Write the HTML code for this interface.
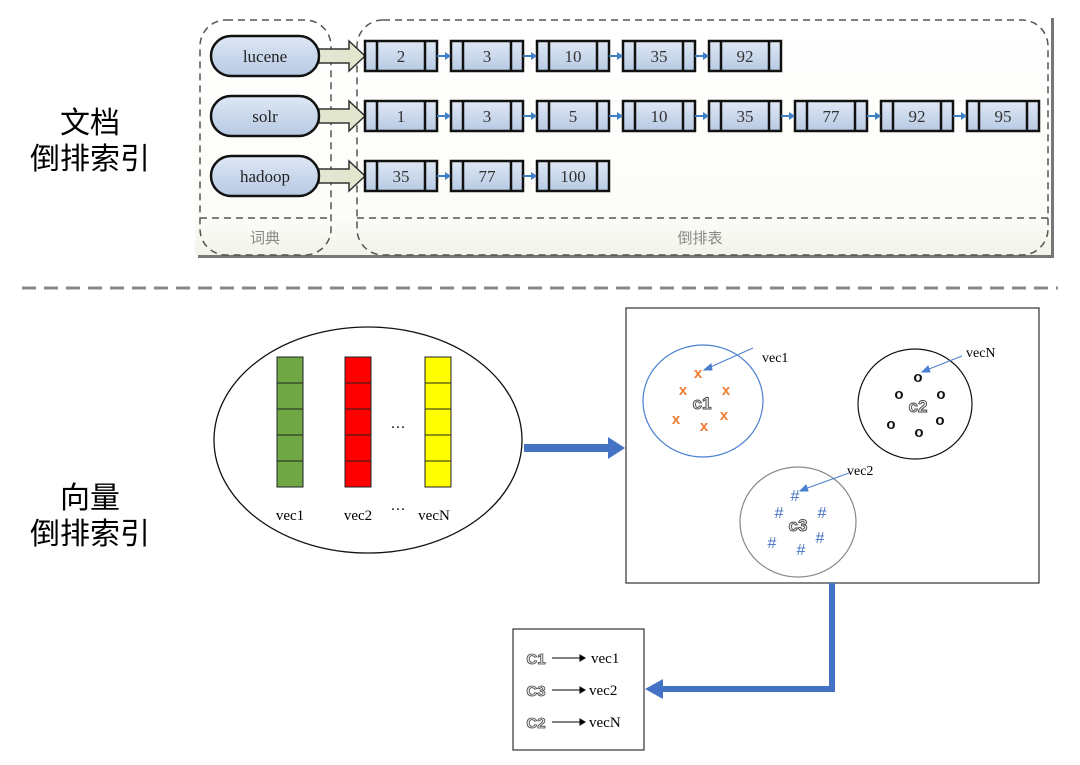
<!DOCTYPE html>
<html><head><meta charset="utf-8"><style>
html,body{margin:0;padding:0;background:#fff;}
svg{display:block;}
text{font-family:"Liberation Serif","Noto Serif CJK SC",serif;}
.cjk{font-family:"Liberation Sans","Noto Sans CJK SC",sans-serif;}
.sans text, text.sans{font-family:"Liberation Sans",sans-serif;}
</style></head><body>
<svg width="1080" height="765" viewBox="0 0 1080 765" xmlns="http://www.w3.org/2000/svg">
<defs>
<linearGradient id="pg" x1="0" y1="0" x2="0" y2="1"><stop offset="0" stop-color="#fff"/><stop offset="0.85" stop-color="#fcfcf8"/><stop offset="1" stop-color="#f3f3ea"/></linearGradient>
<linearGradient id="bg" x1="0" y1="0" x2="0" y2="1"><stop offset="0" stop-color="#dfe8f5"/><stop offset="1" stop-color="#b7c9e3"/></linearGradient>
<g id="box">
<rect x="0" y="0" width="72" height="30" fill="url(#bg)" stroke="#111" stroke-width="2.5"/>
<line x1="12" y1="0" x2="12" y2="30" stroke="#111" stroke-width="2.5"/>
<line x1="60" y1="0" x2="60" y2="30" stroke="#111" stroke-width="2.5"/>
</g>
<g id="lk"><line x1="0" y1="0" x2="9" y2="0" stroke="#3f7fc6" stroke-width="2"/><polygon points="8,-4 14,0 8,4" fill="#3f7fc6"/></g>
<g id="pill"><rect x="-54" y="-20" width="108" height="40" rx="20" fill="url(#bg)" stroke="#111" stroke-width="2.5"/></g>
<g id="arr"><polygon points="0,-7 30,-7 30,-15 46,0 30,15 30,7 0,7" fill="#e3e6cf" stroke="#333" stroke-width="1.5"/></g>
</defs>
<rect x="198" y="18" width="856" height="240" fill="#777"/>
<rect x="195" y="15" width="856" height="240" fill="url(#pg)"/>
<rect x="200" y="20" width="131" height="235" rx="26" fill="none" stroke="#555" stroke-width="1.5" stroke-dasharray="7,5"/>
<line x1="200" y1="218" x2="331" y2="218" stroke="#555" stroke-width="1.5" stroke-dasharray="7,5"/>
<rect x="357" y="20" width="691" height="235" rx="26" fill="none" stroke="#555" stroke-width="1.5" stroke-dasharray="7,5"/>
<line x1="357" y1="218" x2="1048" y2="218" stroke="#555" stroke-width="1.5" stroke-dasharray="7,5"/>
<text x="265" y="243" font-size="15" fill="#888" text-anchor="middle" class="cjk">词典</text>
<text x="700" y="243" font-size="15" fill="#888" text-anchor="middle" class="cjk">倒排表</text>
<use href="#arr" x="319" y="56"/><use href="#arr" x="319" y="116"/><use href="#arr" x="319" y="176"/>
<use href="#pill" x="265" y="56"/><use href="#pill" x="265" y="116"/><use href="#pill" x="265" y="176"/>
<g font-size="17" fill="#222" text-anchor="middle">
<text x="265" y="62">lucene</text><text x="265" y="122">solr</text><text x="265" y="182">hadoop</text>
</g>
<g>
<use href="#box" x="365" y="41"/><use href="#box" x="451" y="41"/><use href="#box" x="537" y="41"/><use href="#box" x="623" y="41"/><use href="#box" x="709" y="41"/>
<use href="#lk" x="437" y="56"/><use href="#lk" x="523" y="56"/><use href="#lk" x="609" y="56"/><use href="#lk" x="695" y="56"/>
<use href="#box" x="365" y="101"/><use href="#box" x="451" y="101"/><use href="#box" x="537" y="101"/><use href="#box" x="623" y="101"/><use href="#box" x="709" y="101"/><use href="#box" x="795" y="101"/><use href="#box" x="881" y="101"/><use href="#box" x="967" y="101"/>
<use href="#lk" x="437" y="116"/><use href="#lk" x="523" y="116"/><use href="#lk" x="609" y="116"/><use href="#lk" x="695" y="116"/><use href="#lk" x="781" y="116"/><use href="#lk" x="867" y="116"/><use href="#lk" x="953" y="116"/>
<use href="#box" x="365" y="161"/><use href="#box" x="451" y="161"/><use href="#box" x="537" y="161"/>
<use href="#lk" x="437" y="176"/><use href="#lk" x="523" y="176"/>
</g>
<g font-size="17" fill="#333" text-anchor="middle">
<text x="401" y="62">2</text><text x="487" y="62">3</text><text x="573" y="62">10</text><text x="659" y="62">35</text><text x="745" y="62">92</text>
<text x="401" y="122">1</text><text x="487" y="122">3</text><text x="573" y="122">5</text><text x="659" y="122">10</text><text x="745" y="122">35</text><text x="831" y="122">77</text><text x="917" y="122">92</text><text x="1003" y="122">95</text>
<text x="401" y="182">35</text><text x="487" y="182">77</text><text x="573" y="182">100</text>
</g>
<g font-size="30" fill="#000" text-anchor="middle" class="cjk">
<text x="90" y="133" class="cjk">文档</text><text x="90" y="169" class="cjk">倒排索引</text>
<text x="90" y="508" class="cjk">向量</text><text x="90" y="544" class="cjk">倒排索引</text>
</g>
<line x1="22" y1="288" x2="1058" y2="288" stroke="#888" stroke-width="3" stroke-dasharray="14,8"/>
<ellipse cx="368" cy="440" rx="154" ry="113" fill="#fff" stroke="#111" stroke-width="1.3"/>
<g stroke="#222" stroke-width="1">
<rect x="277" y="357" width="26" height="130" fill="#6fa845"/>
<line x1="277" y1="383" x2="303" y2="383"/><line x1="277" y1="409" x2="303" y2="409"/><line x1="277" y1="435" x2="303" y2="435"/><line x1="277" y1="461" x2="303" y2="461"/>
<rect x="345" y="357" width="26" height="130" fill="#f00"/>
<line x1="345" y1="383" x2="371" y2="383"/><line x1="345" y1="409" x2="371" y2="409"/><line x1="345" y1="435" x2="371" y2="435"/><line x1="345" y1="461" x2="371" y2="461"/>
<rect x="425" y="357" width="26" height="130" fill="#ff0"/>
<line x1="425" y1="383" x2="451" y2="383"/><line x1="425" y1="409" x2="451" y2="409"/><line x1="425" y1="435" x2="451" y2="435"/><line x1="425" y1="461" x2="451" y2="461"/>
</g>
<g font-size="15" fill="#000" text-anchor="middle">
<text x="290" y="520">vec1</text><text x="358" y="520">vec2</text><text x="398" y="514">···</text><text x="434" y="520">vecN</text>
<text x="398" y="432">···</text>
</g>
<polygon points="524,444 608,444 608,437 625,448 608,459 608,452 524,452" fill="#4472c4"/>
<rect x="626" y="308" width="413" height="275" fill="#fff" stroke="#333" stroke-width="1.2"/>
<ellipse cx="703" cy="401" rx="60" ry="56" fill="none" stroke="#4a7fd0" stroke-width="1.2"/>
<ellipse cx="915" cy="404" rx="57" ry="55" fill="none" stroke="#111" stroke-width="1.2"/>
<ellipse cx="798" cy="522" rx="58" ry="55" fill="none" stroke="#888" stroke-width="1.2"/>
<g class="sans" font-size="15" font-weight="bold" text-anchor="middle">
<g fill="#ed7d31"><text x="698" y="378">x</text><text x="683" y="395">x</text><text x="726" y="395">x</text><text x="676" y="424">x</text><text x="724" y="420">x</text><text x="704" y="431">x</text></g>
<g fill="#111"><text x="918" y="382">o</text><text x="899" y="399">o</text><text x="941" y="399">o</text><text x="891" y="429">o</text><text x="940" y="425">o</text><text x="919" y="437">o</text></g>
<g fill="#4472c4" font-weight="normal" font-size="16"><text x="795" y="501">#</text><text x="779" y="518">#</text><text x="822" y="518">#</text><text x="772" y="548">#</text><text x="820" y="543">#</text><text x="801" y="555">#</text></g>
<g fill="#eee" stroke="#444" stroke-width="0.9" font-size="17"><text x="702" y="409">c1</text><text x="918" y="412">c2</text><text x="798" y="531">c3</text></g>
</g>
<g stroke="#4a7fd0" stroke-width="1" fill="#4a7fd0">
<line x1="753" y1="348" x2="706" y2="369"/><polygon points="704,370 711,364 712,370"/>
<line x1="962" y1="356" x2="924" y2="371"/><polygon points="922,372 928,366 930,372"/>
<line x1="849" y1="473" x2="802" y2="490"/><polygon points="800,491 806,485 808,491"/>
</g>
<g font-size="14" fill="#000"><text x="762" y="362">vec1</text><text x="966" y="357">vecN</text><text x="847" y="475">vec2</text></g>
<polyline points="832,583 832,689 662,689" fill="none" stroke="#4472c4" stroke-width="6"/>
<polygon points="645,689 663,679 663,699" fill="#4472c4"/>
<rect x="513" y="629" width="131" height="121" fill="#fff" stroke="#333" stroke-width="1.2"/>
<g class="sans" font-size="15" font-weight="bold" fill="#eee" stroke="#444" stroke-width="0.8" text-anchor="middle">
<text x="536" y="664">C1</text><text x="536" y="696">C3</text><text x="536" y="728">C2</text>
</g>
<g stroke="#000" stroke-width="1" fill="#000">
<line x1="552" y1="658" x2="580" y2="658"/><polygon points="580,655 585,658 580,661"/>
<line x1="552" y1="690" x2="580" y2="690"/><polygon points="580,687 585,690 580,693"/>
<line x1="552" y1="722" x2="580" y2="722"/><polygon points="580,719 585,722 580,725"/>
</g>
<g font-size="15" fill="#000"><text x="591" y="663">vec1</text><text x="589" y="695">vec2</text><text x="589" y="727">vecN</text></g>
</svg>
</body></html>
